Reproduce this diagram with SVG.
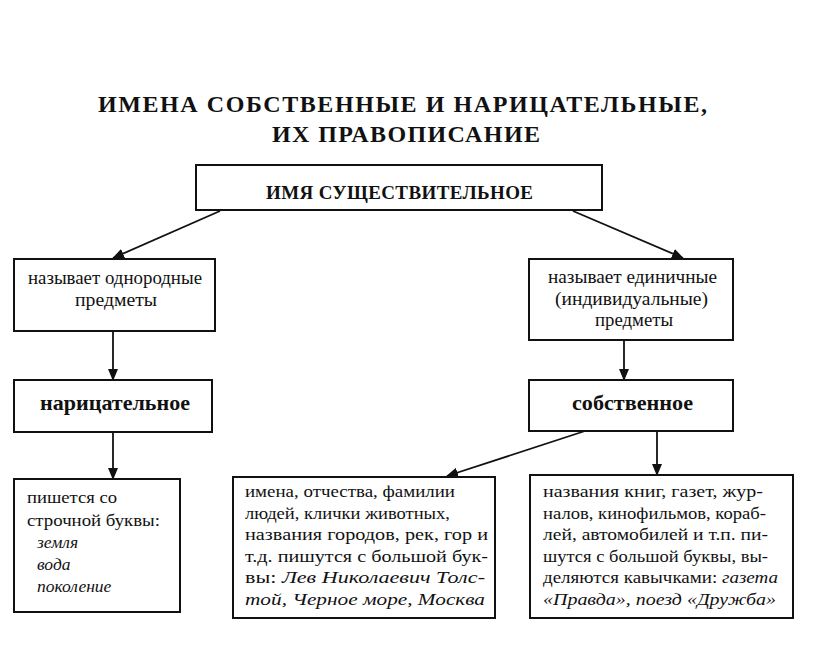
<svg xmlns="http://www.w3.org/2000/svg" width="816" height="645" viewBox="0 0 816 645">
<style>
.box{fill:#fff;stroke:#111;stroke-width:2}
.t{font-family:"Liberation Serif","DejaVu Serif",serif;fill:#111}
.title{font-size:24px;font-weight:bold}
.hb{font-size:19px;font-weight:bold}
.lbl{font-size:18px}
.bold{font-size:21px;font-weight:bold}
.body{font-size:17.5px}
.it{font-style:italic}
.c{text-anchor:middle}
.con{stroke:#111;stroke-width:1.8;fill:none;marker-end:url(#ah)}
</style>
<defs>
<marker id="ah" markerUnits="userSpaceOnUse" markerWidth="12" markerHeight="10" refX="11" refY="5" orient="auto">
<path d="M0,0 L12,5 L0,10 Z" fill="#111"/>
</marker>
</defs>
<rect width="816" height="645" fill="#fff"/>
<g id="title">
<text class="t title" x="98" y="112" textLength="609" lengthAdjust="spacing">ИМЕНА СОБСТВЕННЫЕ И НАРИЦАТЕЛЬНЫЕ,</text>
<text class="t title" x="272" y="142" textLength="268" lengthAdjust="spacing">ИХ ПРАВОПИСАНИЕ</text>
</g>
<g id="connectors">
<line class="con" x1="220" y1="211" x2="113" y2="258"/>
<line class="con" x1="573" y1="211" x2="683" y2="258"/>
<line class="con" x1="113" y1="331" x2="113" y2="380"/>
<line class="con" x1="624" y1="340" x2="624" y2="380"/>
<line class="con" x1="113" y1="432" x2="113" y2="479"/>
<line class="con" x1="585" y1="431" x2="447" y2="476"/>
<line class="con" x1="657" y1="431" x2="657" y2="475"/>
</g>
<g id="n-root">
<rect class="box" x="196" y="165" width="406" height="45"/>
<text class="t hb" x="266" y="199" textLength="267" lengthAdjust="spacing">ИМЯ СУЩЕСТВИТЕЛЬНОЕ</text>
</g>
<g id="n-common-def">
<rect class="box" x="14" y="259" width="201" height="72"/>
<text class="t lbl" x="28" y="284" textLength="174" lengthAdjust="spacingAndGlyphs">называет однородные</text>
<text class="t lbl" x="75" y="306" textLength="82" lengthAdjust="spacingAndGlyphs">предметы</text>
</g>
<g id="n-proper-def">
<rect class="box" x="529" y="259" width="204" height="81"/>
<text class="t lbl" x="548" y="283" textLength="169" lengthAdjust="spacingAndGlyphs">называет единичные</text>
<text class="t lbl" x="555" y="305" textLength="153" lengthAdjust="spacingAndGlyphs">(индивидуальные)</text>
<text class="t lbl" x="595" y="326" textLength="78" lengthAdjust="spacingAndGlyphs">предметы</text>
</g>
<g id="n-common">
<rect class="box" x="14" y="380" width="198" height="52"/>
<text class="t bold" x="40" y="410" textLength="150" lengthAdjust="spacingAndGlyphs">нарицательное</text>
</g>
<g id="n-proper">
<rect class="box" x="529" y="380" width="204" height="51"/>
<text class="t bold" x="572" y="410" textLength="121" lengthAdjust="spacingAndGlyphs">собственное</text>
</g>
<g id="n-common-rule">
<rect class="box" x="14" y="479" width="166" height="133"/>
<text class="t body" x="27" y="503" textLength="90" lengthAdjust="spacingAndGlyphs">пишется со</text>
<text class="t body" x="27" y="526" textLength="133" lengthAdjust="spacingAndGlyphs">строчной буквы:</text>
<text class="t body it" x="37" y="548">земля</text>
<text class="t body it" x="37" y="570">вода</text>
<text class="t body it" x="37" y="592">поколение</text>
</g>
<g id="n-proper-names">
<rect class="box" x="233" y="477" width="262" height="141"/>
<text class="t body" x="245" y="497" textLength="210" lengthAdjust="spacingAndGlyphs">имена, отчества, фамилии</text>
<text class="t body" x="245" y="519" textLength="205" lengthAdjust="spacingAndGlyphs">людей, клички животных,</text>
<text class="t body" x="245" y="540" textLength="243" lengthAdjust="spacingAndGlyphs">названия городов, рек, гор и</text>
<text class="t body" x="245" y="562" textLength="243" lengthAdjust="spacingAndGlyphs">т.д. пишутся с большой бук-</text>
<text class="t body" x="245" y="583" textLength="240" lengthAdjust="spacingAndGlyphs">вы: <tspan class="it">Лев Николаевич Толс-</tspan></text>
<text class="t body it" x="245" y="605" textLength="240" lengthAdjust="spacingAndGlyphs">той, Черное море, Москва</text>
</g>
<g id="n-proper-titles">
<rect class="box" x="530" y="475" width="263" height="143"/>
<text class="t body" x="543" y="497" textLength="220" lengthAdjust="spacingAndGlyphs">названия книг, газет, жур-</text>
<text class="t body" x="543" y="519" textLength="223" lengthAdjust="spacingAndGlyphs">налов, кинофильмов, кораб-</text>
<text class="t body" x="543" y="540" textLength="225" lengthAdjust="spacingAndGlyphs">лей, автомобилей и т.п. пи-</text>
<text class="t body" x="543" y="562" textLength="225" lengthAdjust="spacingAndGlyphs">шутся с большой буквы, вы-</text>
<text class="t body" x="543" y="583" textLength="235" lengthAdjust="spacingAndGlyphs">деляются кавычками: <tspan class="it">газета</tspan></text>
<text class="t body it" x="543" y="605" textLength="233" lengthAdjust="spacingAndGlyphs">«Правда», поезд «Дружба»</text>
</g>
</svg>
